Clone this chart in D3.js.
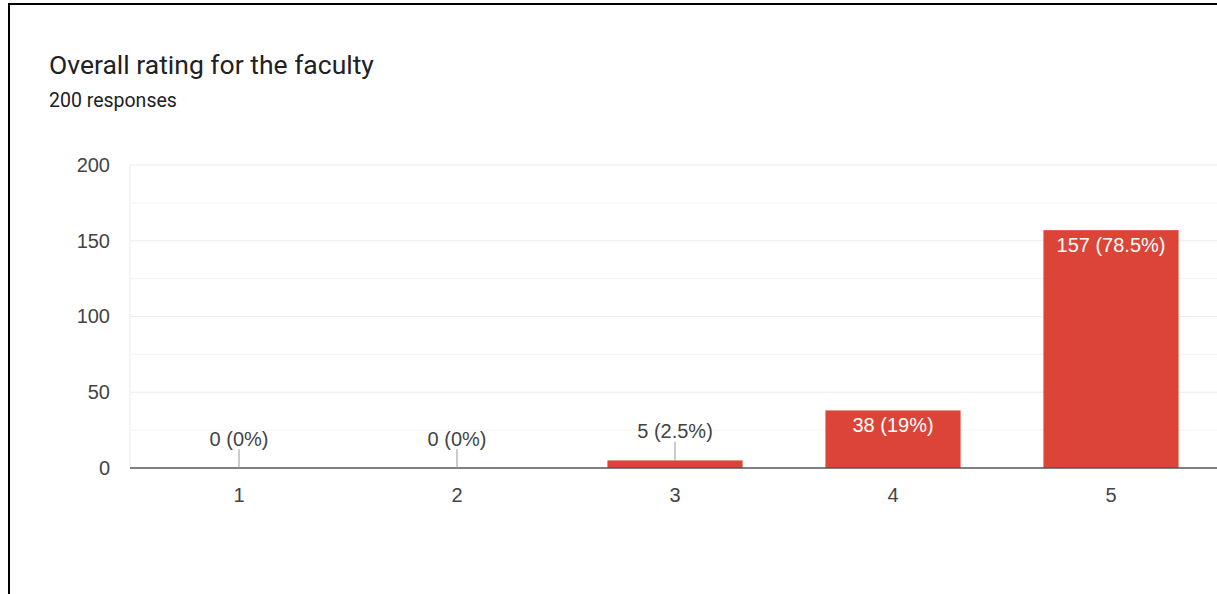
<!DOCTYPE html>
<html>
<head>
<meta charset="utf-8">
<script src="https://cdn.jsdelivr.net/npm/d3@7"></script>
<style>
  body { margin: 0; background: #fff; }
  svg { display: block; font-family: Roboto, Arial, sans-serif; }
</style>
</head>
<body>
<svg id="chart" width="1217" height="594"></svg>
<script>
// data
const ratings = ["1", "2", "3", "4", "5"];
const counts = [0, 0, 5, 38, 157];
const percents = ["0%", "0%", "2.5%", "19%", "78.5%"];
const yTicks = [0, 50, 100, 150, 200];
const totalResponses = 200;

const svg = d3.select("#chart"),
    WIDTH = 1217,
    HEIGHT = 594,
    MARGINS = { top: 165, right: -3, bottom: 126, left: 130 },
    LABEL_FONT = "'Liberation Sans', Arial, sans-serif";

// frame (only top and left edges show in the crop)
svg.append("line").attr("x1", 9).attr("x2", WIDTH).attr("y1", 4).attr("y2", 4)
    .attr("stroke", "#000").attr("stroke-width", 2);
svg.append("line").attr("x1", 9).attr("x2", 9).attr("y1", 3).attr("y2", HEIGHT)
    .attr("stroke", "#000").attr("stroke-width", 2);

svg.append("text").attr("x", 49).attr("y", 74)
    .attr("font-size", 26.5).attr("fill", "#202124")
    .text("Overall rating for the faculty");
svg.append("text").attr("x", 49).attr("y", 106.5)
    .attr("font-size", 19.5).attr("fill", "#202124")
    .text(totalResponses + " responses");

const x = d3.scaleBand()
    .domain(ratings)
    .range([MARGINS.left, WIDTH - MARGINS.right])
    .paddingInner(0.38)
    .paddingOuter(0.19);

const y = d3.scaleLinear()
    .domain([0, 200])
    .range([HEIGHT - MARGINS.bottom, MARGINS.top]);

// grid
const minor = d3.range(25, 200, 50);
svg.append("g").selectAll("line").data(minor).enter().append("line")
    .attr("x1", MARGINS.left).attr("x2", WIDTH)
    .attr("y1", d => y(d)).attr("y2", d => y(d))
    .attr("stroke", "#f4f4f4");
svg.append("g").selectAll("line").data(yTicks.slice(1)).enter().append("line")
    .attr("x1", MARGINS.left).attr("x2", WIDTH)
    .attr("y1", d => y(d)).attr("y2", d => y(d))
    .attr("stroke", "#ebebeb");
svg.append("line").attr("x1", MARGINS.left).attr("x2", MARGINS.left)
    .attr("y1", y(200)).attr("y2", y(0)).attr("stroke", "#ebebeb");

// y axis
const yAxis = svg.append("g")
    .attr("transform", "translate(" + (MARGINS.left - 20) + ",0)")
    .call(d3.axisLeft(y).tickValues(yTicks).tickSize(0).tickPadding(0));
yAxis.select(".domain").remove();
yAxis.selectAll("text").attr("font-size", 20).attr("fill", "#444")
    .attr("font-family", LABEL_FONT);

// x axis
const xAxis = svg.append("g")
    .attr("transform", "translate(0," + y(0) + ")")
    .call(d3.axisBottom(x).tickSize(0).tickPadding(20));
xAxis.select(".domain").remove();
xAxis.selectAll("text").attr("font-size", 20).attr("fill", "#444")
    .attr("font-family", LABEL_FONT);

const data = ratings.map((r, i) => ({ r: r, v: counts[i], p: percents[i] }));

svg.append("g").selectAll("rect").data(data).enter().append("rect")
    .attr("x", d => x(d.r))
    .attr("y", d => y(d.v))
    .attr("width", x.bandwidth())
    .attr("height", d => y(0) - y(d.v))
    .attr("fill", "#db4437");

// baseline
svg.append("line").attr("x1", MARGINS.left).attr("x2", WIDTH)
    .attr("y1", y(0)).attr("y2", y(0))
    .attr("stroke", "#555").attr("stroke-width", 1.5);

// labels: inside tall bars, above small ones with a leader line
const inside = d => y(0) - y(d.v) > 40;
const lab = svg.append("g").selectAll("g").data(data).enter().append("g");
lab.filter(d => !inside(d)).append("line")
    .attr("x1", d => x(d.r) + x.bandwidth() / 2)
    .attr("x2", d => x(d.r) + x.bandwidth() / 2)
    .attr("y1", d => y(d.v) - 19).attr("y2", d => y(d.v))
    .attr("stroke", "#999");
lab.append("text")
    .attr("x", d => x(d.r) + x.bandwidth() / 2)
    .attr("y", d => inside(d) ? y(d.v) + 22 : y(d.v) - 22)
    .attr("text-anchor", "middle")
    .attr("font-size", 20)
    .attr("font-family", LABEL_FONT)
    .attr("fill", d => inside(d) ? "#fff" : "#444")
    .text(d => d.v + " (" + d.p + ")");
</script>
</body>
</html>
